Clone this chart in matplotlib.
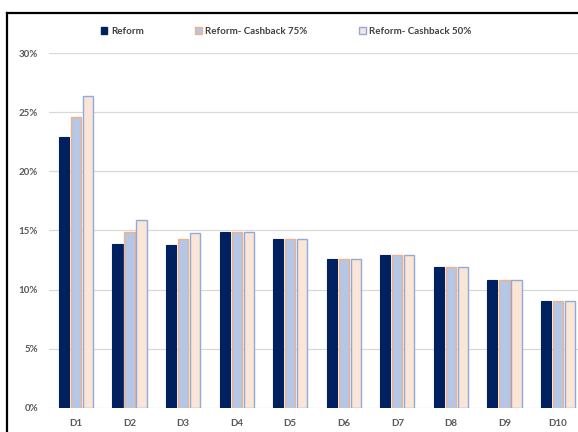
import matplotlib
matplotlib.use('Agg')
import numpy as np
import matplotlib.pyplot as plt
from matplotlib.patches import Patch
from matplotlib.ticker import PercentFormatter

deciles = ['D1', 'D2', 'D3', 'D4', 'D5', 'D6', 'D7', 'D8', 'D9', 'D10']
reform = [22.9, 13.85, 13.8, 14.9, 14.25, 12.6, 12.95, 11.95, 10.8, 9.05]
cashback_75 = [24.6, 14.85, 14.25, 14.9, 14.25, 12.55, 12.95, 11.95, 10.8, 9.05]
cashback_50 = [26.35, 15.9, 14.75, 14.9, 14.25, 12.55, 12.95, 11.95, 10.8, 9.05]
series_names = ['Reform', 'Reform- Cashback 75%', 'Reform- Cashback 50%']

plt.rcParams['font.family'] = ['Lato', 'DejaVu Sans']

fig = plt.figure(figsize=(5.78, 4.32), dpi=100)
ax = fig.add_axes([0.0851, 0.0563, 0.9266, 0.8203])

x = np.arange(len(deciles))
w = 0.19
step = 0.225
ax.bar(x - step, reform, w, color='#002060', edgecolor='#002060', linewidth=0.8, zorder=3)
ax.bar(x, cashback_75, w, color='#b4c7e7', edgecolor='#f4b183', linewidth=1.0, zorder=3)
ax.bar(x + step, cashback_50, w, color='#fbe5d6', edgecolor='#8faadc', linewidth=1.0, zorder=3)

ax.set_ylim(0, 30)
ax.set_xlim(-0.5, 9.5)
ax.set_yticks(np.arange(0, 31, 5))
ax.yaxis.set_major_formatter(PercentFormatter(decimals=0))
ax.set_xticks(x)
ax.set_xticklabels(deciles)
ax.grid(axis='y', color='#d9d9d9', linewidth=0.9, zorder=0)
ax.tick_params(length=0, labelsize=7, labelcolor='#595959')
ax.tick_params(axis='x', pad=8)
ax.tick_params(axis='y', pad=8)
for lab in ax.get_xticklabels() + ax.get_yticklabels():
    lab.set_fontweight('bold')
for s in ax.spines.values():
    s.set_visible(False)

handles = [
    Patch(facecolor='#002060', edgecolor='#002060'),
    Patch(facecolor='#b4c7e7', edgecolor='#f4b183'),
    Patch(facecolor='#fbe5d6', edgecolor='#8faadc'),
]
fig.legend(handles, series_names, loc='center', bbox_to_anchor=(0.495, 0.928),
           ncol=3, frameon=False, handlelength=0.7, handleheight=0.7,
           handletextpad=0.35, columnspacing=5.3,
           prop={'size': 7, 'weight': 'bold'}, labelcolor='#404040')

# outer chart frame
fig.add_artist(plt.Line2D([6.5 / 578, 6.5 / 578], [0, 1 - 13 / 432],
                          transform=fig.transFigure, color='black', lw=1.6))
fig.add_artist(plt.Line2D([6.5 / 578, 1], [1 - 13 / 432, 1 - 13 / 432],
                          transform=fig.transFigure, color='black', lw=1.6))

fig.savefig('out.png', dpi=100)
